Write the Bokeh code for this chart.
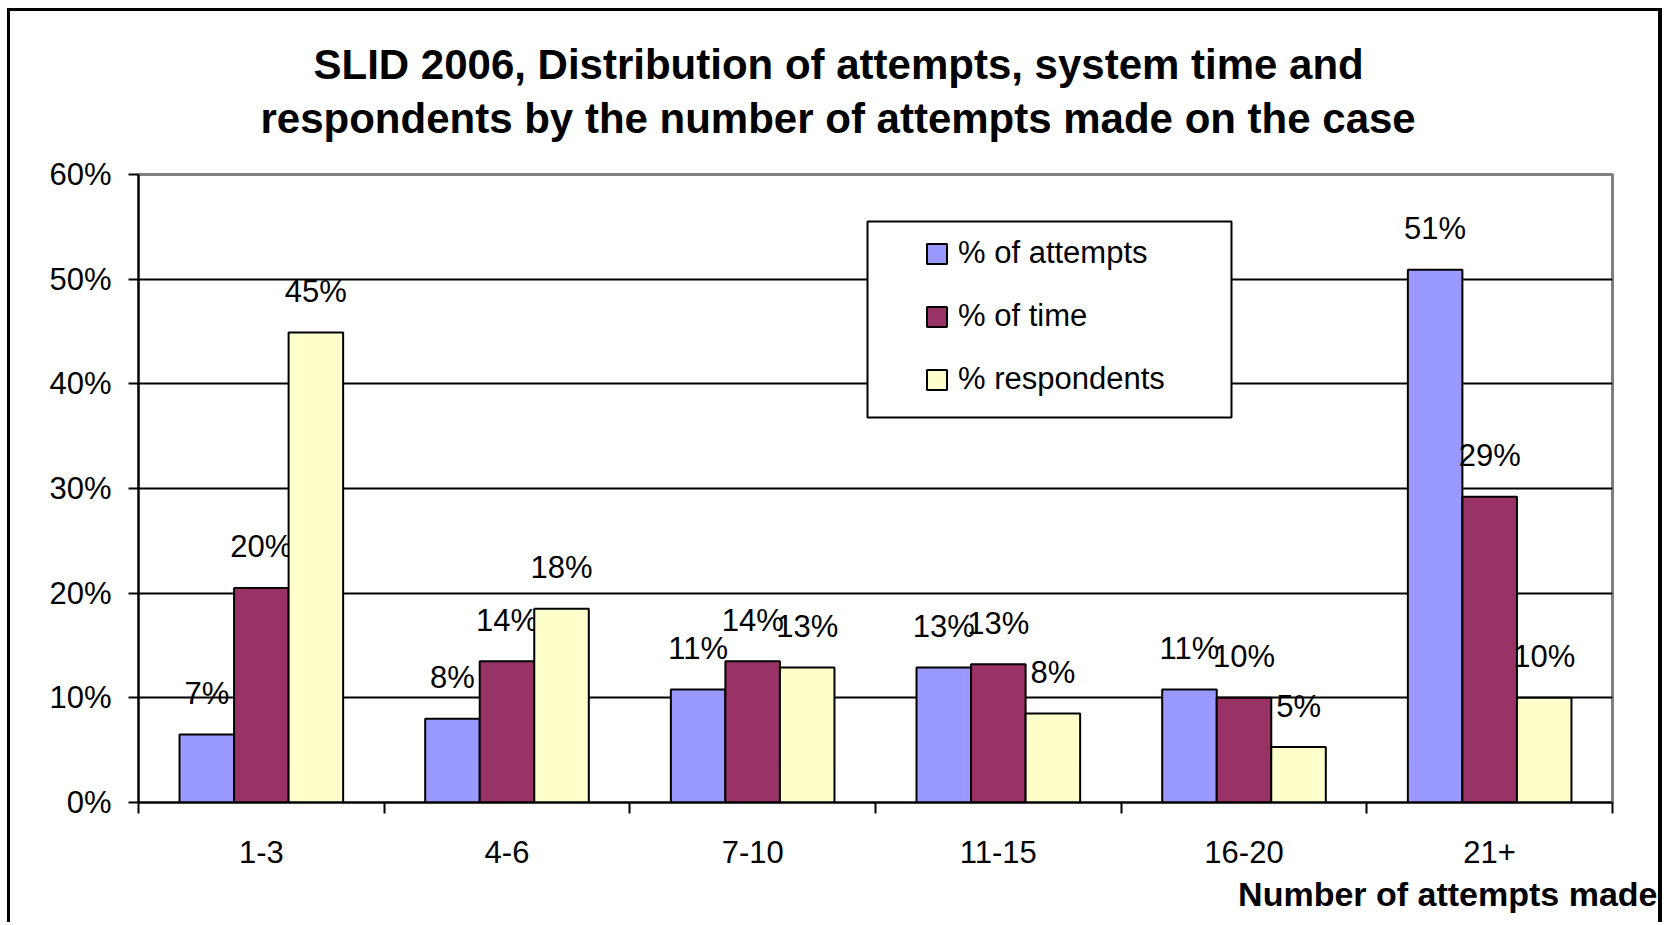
import numpy as np
from bokeh.plotting import figure
from bokeh.models import (ColumnDataSource, FixedTicker, PrintfTickFormatter, Title,
                          Legend, LegendItem, BoxAnnotation, Range1d)
from bokeh.transform import dodge
from bokeh.core.properties import value
from bokeh.embed import file_html
from bokeh.resources import INLINE

# ---------------- data ----------------
categories = ["1-3", "4-6", "7-10", "11-15", "16-20", "21+"]
pct_attempts = [6.5, 8.0, 10.8, 12.9, 10.8, 50.9]
pct_time = [20.5, 13.5, 13.5, 13.2, 10.0, 29.2]
pct_respondents = [44.9, 18.5, 12.9, 8.5, 5.3, 10.0]
labels_attempts = ["7%", "8%", "11%", "13%", "11%", "51%"]
labels_time = ["20%", "14%", "14%", "13%", "10%", "29%"]
labels_respondents = ["45%", "18%", "13%", "8%", "5%", "10%"]
series_names = ["% of attempts", "% of time", "% respondents"]
y_ticks = [0, 10, 20, 30, 40, 50, 60]
title_lines = ["SLID 2006, Distribution of attempts, system time and",
               "respondents by the number of attempts made on the case"]
x_title = "Number of attempts made"

# ---------------- styles / layout ----------------
FONT = "Liberation Sans"
colors = ["#9999FF", "#993366", "#FFFFCC"]
bar_w = 0.222
offsets = [-bar_w, 0.0, bar_w]

CANVAS_X0, CANVAS_Y0 = 10, 11
FRAME_L, FRAME_T, FRAME_R, FRAME_B = 138, 174, 1612, 802
CANVAS_W, CANVAS_H = 1655, 914


def fx(px):  # page x -> frame screen x
    return px - FRAME_L


def fy(py):  # page y -> frame screen y (from frame bottom, upwards)
    return FRAME_B - py


xc = np.arange(len(categories)) + 0.5
source = ColumnDataSource(dict(
    x=xc, cat=categories,
    attempts=pct_attempts, time=pct_time, respondents=pct_respondents,
    l_attempts=labels_attempts, l_time=labels_time, l_respondents=labels_respondents,
))

p = figure(width=CANVAS_W, height=CANVAS_H,
           x_range=Range1d(0, len(categories)), y_range=Range1d(0, 60),
           output_backend="svg", toolbar_location=None,
           min_border_left=FRAME_L - CANVAS_X0,
           min_border_right=CANVAS_X0 + CANVAS_W - FRAME_R,
           min_border_top=FRAME_T - CANVAS_Y0,
           min_border_bottom=CANVAS_Y0 + CANVAS_H - FRAME_B,
           margin=(8, 0, 0, 7),
           styles={"border-top": "3px solid black",
                   "border-left": "3px solid black",
                   "border-right": "4px solid black"})
p.title.visible = False
p.background_fill_color = "white"
p.border_fill_color = "white"
p.outline_line_color = "#808080"
p.outline_line_width = 3

# grid
p.xgrid.visible = False
p.ygrid.ticker = FixedTicker(ticks=y_ticks[1:-1])
p.ygrid.grid_line_color = "black"
p.ygrid.grid_line_width = 2

# y axis
ya = p.yaxis[0]
ya.ticker = FixedTicker(ticks=y_ticks)
ya.formatter = PrintfTickFormatter(format="%d%%")
ya.axis_line_width = 2
ya.axis_line_color = "black"
ya.major_tick_line_width = 2
ya.major_tick_out = 10
ya.major_tick_in = 0
ya.minor_tick_line_color = None
ya.major_label_standoff = 17
ya.major_label_text_font = FONT
ya.major_label_text_font_size = "31px"
ya.major_label_text_color = "black"

# x axis: labels at centres, ticks at boundaries (minor ticks)
xa = p.xaxis[0]
xa.ticker = FixedTicker(ticks=list(xc), minor_ticks=list(range(len(categories) + 1)))
xa.major_label_overrides = {float(v): c for v, c in zip(xc, categories)}
xa.axis_line_width = 2
xa.axis_line_color = "black"
xa.major_tick_line_color = None
xa.major_tick_out = 0
xa.major_tick_in = 0
xa.minor_tick_line_color = "black"
xa.minor_tick_line_width = 2
xa.minor_tick_out = 11
xa.minor_tick_in = 0
xa.major_label_standoff = 27
xa.major_label_text_font = FONT
xa.major_label_text_font_size = "31px"
xa.major_label_text_color = "black"

# bars + value labels
cols = ["attempts", "time", "respondents"]
lcols = ["l_attempts", "l_time", "l_respondents"]
renderers = []
for col, lcol, off, color in zip(cols, lcols, offsets, colors):
    r = p.vbar(x=dodge("x", off), top=col, width=bar_w, bottom=0, source=source,
               fill_color=color, line_color="black", line_width=2)
    renderers.append(r)
    p.text(x=dodge("x", off), y=col, text=lcol, source=source,
           y_offset=-41, text_align="center", text_baseline="middle",
           text_font=value(FONT), text_font_size=value("31px"), text_color="black")

# legend box + legend
box = BoxAnnotation(left=fx(867), right=fx(1231), top=fy(221), bottom=fy(417),
                    left_units="screen", right_units="screen",
                    top_units="screen", bottom_units="screen",
                    fill_color="white", fill_alpha=1.0,
                    line_color="black", line_alpha=1.0, line_width=2)
p.add_layout(box)

legend = Legend(items=[LegendItem(label=n, renderers=[r]) for n, r in zip(series_names, renderers)],
                location=(fx(924), fy(397)), padding=0, margin=0,
                border_line_color=None, background_fill_alpha=0,
                glyph_width=25, glyph_height=25, label_standoff=9,
                label_height=36, spacing=27,
                label_text_font=FONT, label_text_font_size="31px", label_text_color="black")
p.add_layout(legend)

# title: spacer nearest the frame, then line 2, then line 1
spacer = Title(text=" ", text_font_size="1px", standoff=25)
t2 = Title(text=title_lines[1], align="left", offset=122, standoff=10,
           text_font=FONT, text_font_size="42px", text_font_style="bold", text_color="black")
t1 = Title(text=title_lines[0], align="left", offset=175, standoff=0,
           text_font=FONT, text_font_size="42px", text_font_style="bold", text_color="black")
p.add_layout(spacer, "above")
p.add_layout(t2, "above")
p.add_layout(t1, "above")

# x axis title (right-aligned, slightly beyond the frame)
tx = Title(text=x_title, align="right", offset=-45, standoff=14,
           text_font=FONT, text_font_size="34px", text_font_style="bold", text_color="black")
p.add_layout(tx, "below")

open("out.html", "w").write(file_html(p, INLINE))
